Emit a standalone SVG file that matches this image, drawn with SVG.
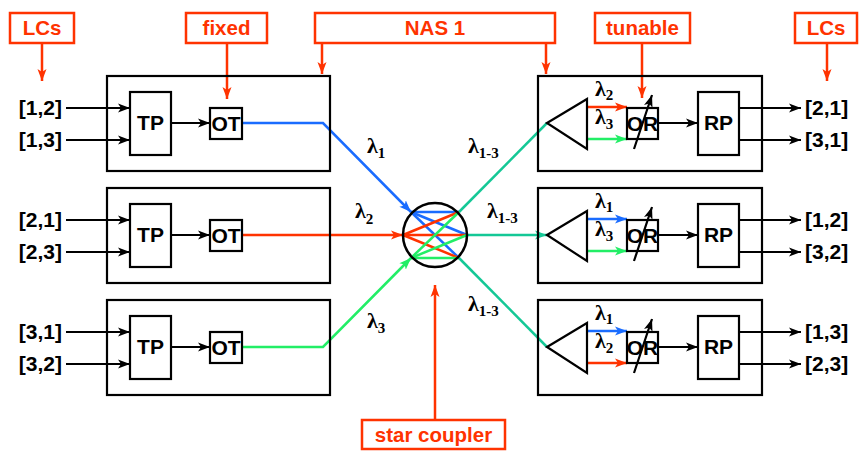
<svg xmlns="http://www.w3.org/2000/svg" width="859" height="451" viewBox="0 0 859 451">
<defs>
<style>
.bx{fill:none;stroke:#000;stroke-width:2.2}
.wb{fill:#fff;stroke:#000;stroke-width:2.2}
.t{font-family:"Liberation Sans",Arial,sans-serif;font-weight:bold;font-size:21px;fill:#000}
.ol{fill:#fff;stroke:#ff3300;stroke-width:2.5}
.ot{font-family:"Liberation Sans",Arial,sans-serif;font-weight:bold;font-size:20.5px;fill:#ff3300;text-anchor:middle}
.oc{fill:none;stroke:#ff3300;stroke-width:2.5}
.lam{font-family:"Liberation Serif","Times New Roman",serif;font-weight:bold;font-size:22px;fill:#000}
.sub{font-size:15px}
.k{fill:none;stroke:#000;stroke-width:2.2}
.bl{fill:none;stroke:#1a6cff;stroke-width:2.5}
.rd{fill:none;stroke:#ff3300;stroke-width:2.5}
.gr{fill:none;stroke:#22ee66;stroke-width:2.5}
.tl{fill:none;stroke:#14c896;stroke-width:2.5}
</style>
<marker id="ak" markerUnits="userSpaceOnUse" markerWidth="13" markerHeight="10" refX="12" refY="5" orient="auto"><path d="M0,0.5 L12,5 L0,9.5 L3,5 z" fill="#000"/></marker>
<marker id="ao" markerUnits="userSpaceOnUse" markerWidth="13" markerHeight="10" refX="12" refY="5" orient="auto"><path d="M0,0.5 L12,5 L0,9.5 L3,5 z" fill="#ff3300"/></marker>
<marker id="ab" markerUnits="userSpaceOnUse" markerWidth="13" markerHeight="10" refX="12" refY="5" orient="auto"><path d="M0,0.5 L12,5 L0,9.5 L3,5 z" fill="#1a6cff"/></marker>
<marker id="ar" markerUnits="userSpaceOnUse" markerWidth="13" markerHeight="10" refX="12" refY="5" orient="auto"><path d="M0,0.5 L12,5 L0,9.5 L3,5 z" fill="#ff3300"/></marker>
<marker id="ag" markerUnits="userSpaceOnUse" markerWidth="13" markerHeight="10" refX="12" refY="5" orient="auto"><path d="M0,0.5 L12,5 L0,9.5 L3,5 z" fill="#22ee66"/></marker>
<marker id="at" markerUnits="userSpaceOnUse" markerWidth="13" markerHeight="10" refX="12" refY="5" orient="auto"><path d="M0,0.5 L12,5 L0,9.5 L3,5 z" fill="#14c896"/></marker>
</defs>
<rect width="859" height="451" fill="#fff"/>

<g id="connectors">
  <line class="oc" x1="42" y1="43" x2="42" y2="81" marker-end="url(#ao)"/>
  <line class="oc" x1="227" y1="43" x2="227" y2="99" marker-end="url(#ao)"/>
  <line class="oc" x1="322" y1="43" x2="322" y2="74" marker-end="url(#ao)"/>
  <line class="oc" x1="546" y1="43" x2="546" y2="74" marker-end="url(#ao)"/>
  <line class="oc" x1="642" y1="43" x2="642" y2="98" marker-end="url(#ao)"/>
  <line class="oc" x1="827" y1="43" x2="827" y2="81" marker-end="url(#ao)"/>
  <line class="oc" x1="435" y1="420" x2="435" y2="285" marker-end="url(#ao)"/>
  <line class="k" x1="66" y1="108" x2="130" y2="108" marker-end="url(#ak)"/>
  <line class="k" x1="66" y1="140" x2="130" y2="140" marker-end="url(#ak)"/>
  <line class="k" x1="66" y1="220" x2="130" y2="220" marker-end="url(#ak)"/>
  <line class="k" x1="66" y1="252" x2="130" y2="252" marker-end="url(#ak)"/>
  <line class="k" x1="66" y1="332" x2="130" y2="332" marker-end="url(#ak)"/>
  <line class="k" x1="66" y1="364" x2="130" y2="364" marker-end="url(#ak)"/>
  <line class="k" x1="171" y1="123" x2="210" y2="123" marker-end="url(#ak)"/>
  <line class="k" x1="171" y1="235" x2="210" y2="235" marker-end="url(#ak)"/>
  <line class="k" x1="171" y1="347" x2="210" y2="347" marker-end="url(#ak)"/>
  <polyline class="bl" points="242,123 323,123 411,212" marker-end="url(#ab)"/>
  <line class="rd" x1="242" y1="235" x2="403" y2="235" marker-end="url(#ar)"/>
  <polyline class="gr" points="242,347 323,347 411,258" marker-end="url(#ag)"/>
  <line class="tl" x1="459" y1="212" x2="547" y2="123"/>
  <line class="tl" x1="467" y1="235" x2="547" y2="235" marker-end="url(#at)"/>
  <line class="tl" x1="459" y1="258" x2="547" y2="347"/>
  <line class="rd" x1="587" y1="107" x2="627" y2="107" marker-end="url(#ar)"/>
  <line class="gr" x1="587" y1="139" x2="627" y2="139" marker-end="url(#ag)"/>
  <line class="bl" x1="587" y1="219" x2="627" y2="219" marker-end="url(#ab)"/>
  <line class="gr" x1="587" y1="251" x2="627" y2="251" marker-end="url(#ag)"/>
  <line class="bl" x1="587" y1="331" x2="627" y2="331" marker-end="url(#ab)"/>
  <line class="rd" x1="587" y1="363" x2="627" y2="363" marker-end="url(#ar)"/>
  <line class="k" x1="658" y1="123" x2="698" y2="123" marker-end="url(#ak)"/>
  <line class="k" x1="658" y1="235" x2="698" y2="235" marker-end="url(#ak)"/>
  <line class="k" x1="658" y1="347" x2="698" y2="347" marker-end="url(#ak)"/>
  <line class="k" x1="739" y1="108" x2="801" y2="108" marker-end="url(#ak)"/>
  <line class="k" x1="739" y1="140" x2="801" y2="140" marker-end="url(#ak)"/>
  <line class="k" x1="739" y1="220" x2="801" y2="220" marker-end="url(#ak)"/>
  <line class="k" x1="739" y1="252" x2="801" y2="252" marker-end="url(#ak)"/>
  <line class="k" x1="739" y1="332" x2="801" y2="332" marker-end="url(#ak)"/>
  <line class="k" x1="739" y1="364" x2="801" y2="364" marker-end="url(#ak)"/>
</g>

<g id="lbl-lcs-left"><rect class="ol" x="10" y="13" width="64" height="30"/><text class="ot" x="42" y="35">LCs</text></g>
<g id="lbl-fixed"><rect class="ol" x="186" y="13" width="81" height="30"/><text class="ot" x="226.5" y="35">fixed</text></g>
<g id="lbl-nas"><rect class="ol" x="315" y="13" width="240" height="30"/><text class="ot" x="435" y="35">NAS 1</text></g>
<g id="lbl-tunable"><rect class="ol" x="595" y="13" width="95" height="30"/><text class="ot" x="642.5" y="35">tunable</text></g>
<g id="lbl-lcs-right"><rect class="ol" x="795" y="13" width="62" height="30"/><text class="ot" x="826" y="35">LCs</text></g>
<g id="lbl-star"><rect class="ol" x="362" y="420" width="143" height="29"/><text class="ot" x="433.5" y="442">star coupler</text></g>

<g id="tx1">
  <rect class="bx" x="107" y="76" width="223" height="95"/>
  <rect class="wb" x="130" y="92" width="41" height="63"/><text class="t" x="150.5" y="130" text-anchor="middle">TP</text>
  <rect class="wb" x="210" y="108" width="32" height="31"/><text class="t" x="226" y="131" text-anchor="middle">OT</text>
  <text class="t" x="62" y="115" text-anchor="end">[1,2]</text>
  <text class="t" x="62" y="147" text-anchor="end">[1,3]</text>
</g>
<g id="tx2">
  <rect class="bx" x="107" y="188" width="223" height="95"/>
  <rect class="wb" x="130" y="204" width="41" height="63"/><text class="t" x="150.5" y="242" text-anchor="middle">TP</text>
  <rect class="wb" x="210" y="220" width="32" height="31"/><text class="t" x="226" y="243" text-anchor="middle">OT</text>
  <text class="t" x="62" y="227" text-anchor="end">[2,1]</text>
  <text class="t" x="62" y="259" text-anchor="end">[2,3]</text>
</g>
<g id="tx3">
  <rect class="bx" x="107" y="300" width="223" height="95"/>
  <rect class="wb" x="130" y="316" width="41" height="63"/><text class="t" x="150.5" y="354" text-anchor="middle">TP</text>
  <rect class="wb" x="210" y="332" width="32" height="31"/><text class="t" x="226" y="355" text-anchor="middle">OT</text>
  <text class="t" x="62" y="339" text-anchor="end">[3,1]</text>
  <text class="t" x="62" y="371" text-anchor="end">[3,2]</text>
</g>

<g id="coupler">
  <line class="bl" x1="411" y1="212" x2="459" y2="212"/>
  <line class="bl" x1="411" y1="212" x2="467" y2="235"/>
  <line class="bl" x1="411" y1="212" x2="459" y2="258"/>
  <line class="rd" x1="403" y1="235" x2="459" y2="212"/>
  <line class="rd" x1="403" y1="235" x2="467" y2="235"/>
  <line class="rd" x1="403" y1="235" x2="459" y2="258"/>
  <line class="gr" x1="411" y1="258" x2="459" y2="212"/>
  <line class="gr" x1="411" y1="258" x2="467" y2="235"/>
  <line class="gr" x1="411" y1="258" x2="459" y2="258"/>
  <circle cx="435" cy="235" r="32" fill="none" stroke="#000" stroke-width="2.5"/>
</g>

<g id="lambdas">
  <text class="lam" x="367" y="153">λ<tspan class="sub" dy="5">1</tspan></text>
  <text class="lam" x="355" y="218">λ<tspan class="sub" dy="6">2</tspan></text>
  <text class="lam" x="367" y="328">λ<tspan class="sub" dy="5">3</tspan></text>
  <text class="lam" x="468" y="153">λ<tspan class="sub" dy="5">1-3</tspan></text>
  <text class="lam" x="487" y="218">λ<tspan class="sub" dy="5">1-3</tspan></text>
  <text class="lam" x="468" y="311">λ<tspan class="sub" dy="5">1-3</tspan></text>
</g>

<g id="rx1">
  <rect class="bx" x="538" y="76" width="224" height="95"/>
  <polygon points="547,123 587,99 587,149" fill="#fff" stroke="#000" stroke-width="2.2"/>
  <rect class="bx" x="627" y="108" width="31" height="31"/><text class="t" x="642.5" y="131" text-anchor="middle">OR</text>
  <line class="k" x1="634" y1="149" x2="652" y2="95" marker-end="url(#ak)"/>
  <rect class="wb" x="698" y="92" width="41" height="63"/><text class="t" x="718.5" y="130" text-anchor="middle">RP</text>
  <text class="lam" x="595" y="96">λ<tspan class="sub" dy="4">2</tspan></text>
  <text class="lam" x="595" y="124">λ<tspan class="sub" dy="5">3</tspan></text>
  <text class="t" x="805" y="115">[2,1]</text>
  <text class="t" x="805" y="147">[3,1]</text>
</g>
<g id="rx2">
  <rect class="bx" x="538" y="188" width="224" height="95"/>
  <polygon points="547,235 587,211 587,261" fill="#fff" stroke="#000" stroke-width="2.2"/>
  <rect class="bx" x="627" y="220" width="31" height="31"/><text class="t" x="642.5" y="243" text-anchor="middle">OR</text>
  <line class="k" x1="634" y1="261" x2="652" y2="207" marker-end="url(#ak)"/>
  <rect class="wb" x="698" y="204" width="41" height="63"/><text class="t" x="718.5" y="242" text-anchor="middle">RP</text>
  <text class="lam" x="595" y="208">λ<tspan class="sub" dy="4">1</tspan></text>
  <text class="lam" x="595" y="236">λ<tspan class="sub" dy="5">3</tspan></text>
  <text class="t" x="805" y="227">[1,2]</text>
  <text class="t" x="805" y="259">[3,2]</text>
</g>
<g id="rx3">
  <rect class="bx" x="538" y="300" width="224" height="95"/>
  <polygon points="547,347 587,323 587,373" fill="#fff" stroke="#000" stroke-width="2.2"/>
  <rect class="bx" x="627" y="332" width="31" height="31"/><text class="t" x="642.5" y="355" text-anchor="middle">OR</text>
  <line class="k" x1="634" y1="373" x2="652" y2="319" marker-end="url(#ak)"/>
  <rect class="wb" x="698" y="316" width="41" height="63"/><text class="t" x="718.5" y="354" text-anchor="middle">RP</text>
  <text class="lam" x="595" y="320">λ<tspan class="sub" dy="4">1</tspan></text>
  <text class="lam" x="595" y="348">λ<tspan class="sub" dy="5">2</tspan></text>
  <text class="t" x="805" y="339">[1,3]</text>
  <text class="t" x="805" y="371">[2,3]</text>
</g>
</svg>
